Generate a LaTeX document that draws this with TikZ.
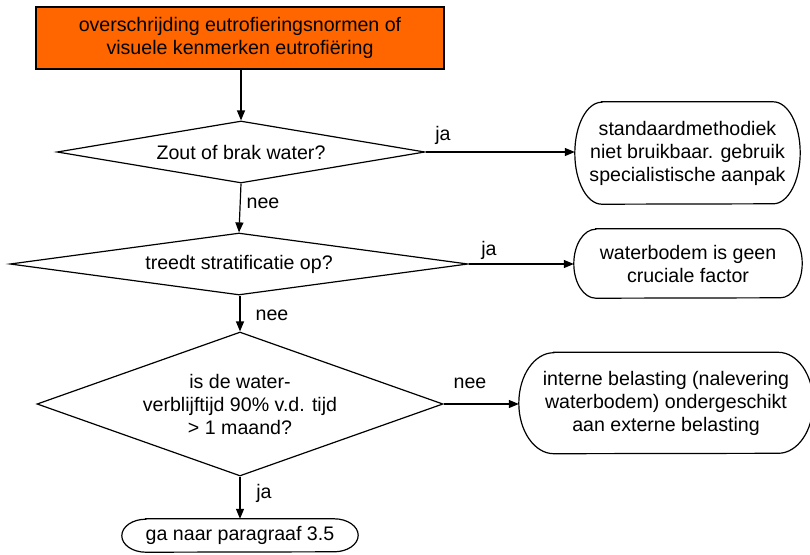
\documentclass[tikz,border=0pt]{standalone}
\usepackage{fontspec}
\setmainfont{Liberation Sans}
\usetikzlibrary{shapes.geometric,arrows.meta}
\definecolor{startorange}{RGB}{255,102,0}
% outline with half-elliptical ends around a named node: {node}{x radius}{y radius}
\newcommand{\capsuleline}[3]{%
  \draw[outline] ([xshift=#2]#1.north west) -- ([xshift=-#2]#1.north east)
    arc[start angle=90,end angle=-90,x radius=#2,y radius=#3]
    -- ([xshift=#2]#1.south west)
    arc[start angle=270,end angle=90,x radius=#2,y radius=#3] -- cycle;}
\begin{document}
\begin{tikzpicture}[x=1pt,y=-1pt,
  every node/.style={font=\fontsize{19.6}{23}\selectfont},
  flow/.style={line width=1.2pt,-{Triangle[length=10pt,width=8pt]}},
  outline/.style={draw,line width=1.2pt},
  decision/.style={outline,shape=diamond,inner sep=0pt,align=center},
  terminal/.style={shape=rectangle,inner sep=0pt,align=center},
  lbl/.style={inner sep=0pt}
]
\useasboundingbox (0,0) rectangle (810,554);

% start box
\node[outline,fill=startorange,minimum width=408pt,minimum height=62pt,
  inner sep=0pt,align=center] (start) at (240,38)
  {overschrijding eutrofieringsnormen of\\visuele kenmerken eutrofiëring};

% decisions
\node[decision,minimum width=368pt,minimum height=62pt,aspect=5.9] (d1) at (241,152)
  {Zout of brak water?};
\node[decision,minimum width=458pt,minimum height=62pt,aspect=7.4] (d2) at (239,264)
  {treedt stratificatie op?};
\node[decision,minimum width=406pt,minimum height=144pt,aspect=2.8] (d3) at (240,404)
  {is de water-\\verblijftijd 90\% v.d. tijd\\> 1 maand?};

% outcomes
\node[terminal,minimum width=225pt,minimum height=102pt] (r1) at (687.5,153)
  {standaardmethodiek\\niet bruikbaar. gebruik\\specialistische aanpak};
\node[terminal,minimum width=228pt,minimum height=69pt] (r2) at (688,263.5)
  {waterbodem is geen\\cruciale factor};
\node[terminal,minimum width=294pt,minimum height=101pt] (r3) at (666,403)
  {interne belasting (nalevering\\waterbodem) ondergeschikt\\aan externe belasting};
\node[terminal,minimum width=236pt,minimum height=33pt] (r4) at (240,535.5)
  {ga naar paragraaf 3.5};
\capsuleline{r1}{27pt}{51pt}
\capsuleline{r2}{22pt}{34.5pt}
\capsuleline{r3}{35pt}{50.5pt}
\capsuleline{r4}{24pt}{16.5pt}

% connectors
\draw[flow] (d1.north |- start.south) -- (d1.north);
\draw[flow] (d1.south) -- (d2.north);
\draw[flow] (d2.south -| d3.north) -- (d3.north);
\draw[flow] (d3.south) -- (r4.north);
\draw[flow] (d1.east) -- (r1.west |- d1.east);
\draw[flow] (d2.east) -- (r2.west |- d2.east);
\draw[flow] (d3.east) -- (r3.west |- d3.east);

% branch labels
\node[lbl] (l1) at (443,135) {ja};
\node[lbl] (l2) at (263,203) {nee};
\node[lbl] (l3) at (489,250) {ja};
\node[lbl] (l4) at (272,315) {nee};
\node[lbl] (l5) at (470,383) {nee};
\node[lbl] (l6) at (264,493) {ja};
\end{tikzpicture}
\end{document}
